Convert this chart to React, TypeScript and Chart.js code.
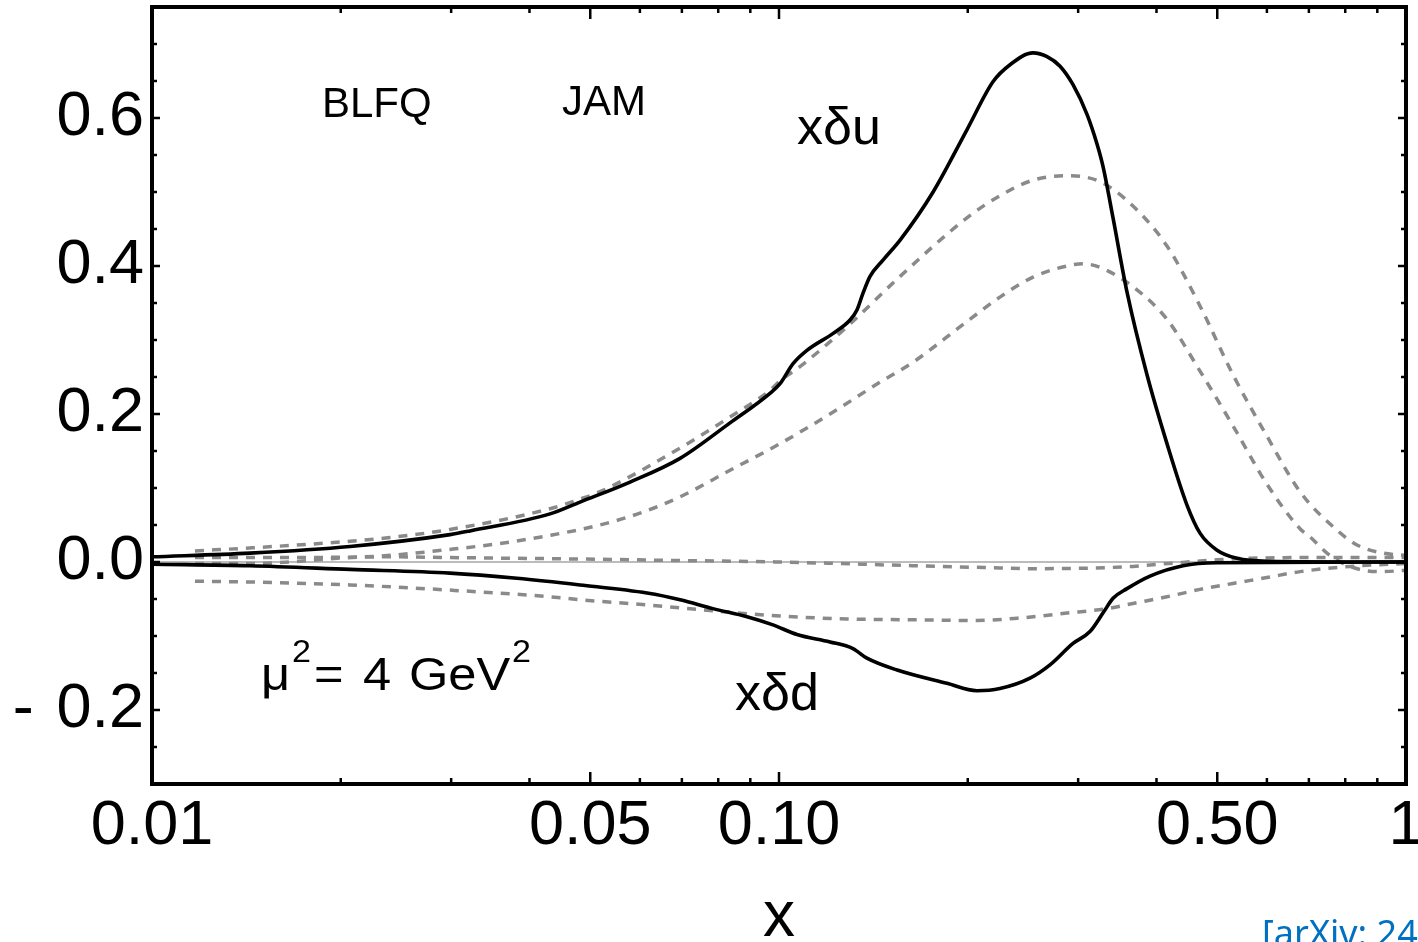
import React, { useEffect, useRef } from 'react';
import { Chart, registerables } from 'chart.js';

Chart.register(...registerables);

const FONT = '"Liberation Sans", Arial, Helvetica, sans-serif';

// ---- BLFQ (solid black) ----
const blfqUX = [0.01, 0.01433, 0.02069, 0.02988, 0.03215, 0.04313, 0.04815, 0.05787, 0.06953, 0.08354, 0.09674, 0.1004, 0.1053, 0.1108, 0.122, 0.1298, 0.1332, 0.1361, 0.1397, 0.1465, 0.156, 0.1761, 0.1994, 0.2194, 0.2336, 0.2542, 0.2676, 0.2807, 0.2944, 0.3099, 0.3215, 0.3286, 0.341, 0.3589, 0.3863, 0.4157, 0.4474, 0.4693, 0.4996, 0.5377, 0.6002, 1.0];
const blfqUY = [0.007, 0.012, 0.021, 0.037, 0.042, 0.065, 0.081, 0.108, 0.14, 0.188, 0.228, 0.241, 0.268, 0.286, 0.309, 0.327, 0.341, 0.363, 0.386, 0.408, 0.435, 0.5, 0.584, 0.649, 0.672, 0.688, 0.683, 0.67, 0.645, 0.605, 0.565, 0.535, 0.465, 0.365, 0.253, 0.16, 0.077, 0.039, 0.016, 0.005, 0.001, 0.0];

const blfqDX = [0.01, 0.01433, 0.02069, 0.02988, 0.0382, 0.04815, 0.0616, 0.06953, 0.07847, 0.08892, 0.09781, 0.1068, 0.1206, 0.1312, 0.1381, 0.1543, 0.1853, 0.2069, 0.2251, 0.2514, 0.2705, 0.2944, 0.3133, 0.3286, 0.341, 0.3589, 0.3906, 0.4409, 0.4996, 1.0];
const blfqDY = [-0.003, -0.005, -0.01, -0.015, -0.022, -0.031, -0.042, -0.051, -0.063, -0.074, -0.085, -0.098, -0.108, -0.117, -0.13, -0.146, -0.164, -0.174, -0.171, -0.157, -0.139, -0.11, -0.094, -0.069, -0.049, -0.036, -0.019, -0.005, -0.001, 0];

// ---- JAM (dashed gray) ----
const jamU1X = [0.01171, 0.01433, 0.02069, 0.02397, 0.02988, 0.04313, 0.04815, 0.05183, 0.06953, 0.08354, 0.09674, 0.1004, 0.108, 0.1284, 0.156, 0.1994, 0.2251, 0.2542, 0.288, 0.3251, 0.3669, 0.4157, 0.4693, 0.5298, 0.6002, 0.6776, 0.7762, 0.8354, 0.919, 1.0];
const jamU1Y = [0.015, 0.019, 0.028, 0.033, 0.044, 0.072, 0.085, 0.095, 0.154, 0.196, 0.232, 0.245, 0.264, 0.318, 0.386, 0.465, 0.495, 0.516, 0.522, 0.514, 0.481, 0.427, 0.346, 0.253, 0.17, 0.095, 0.043, 0.023, 0.012, 0.009];

const jamU2X = [0.01171, 0.01433, 0.01722, 0.01973, 0.02397, 0.02988, 0.03589, 0.04313, 0.05183, 0.06, 0.06953, 0.08354, 0.1004, 0.1206, 0.1449, 0.1636, 0.1994, 0.2251, 0.2542, 0.288, 0.3054, 0.3251, 0.3669, 0.4157, 0.4693, 0.5298, 0.6002, 0.6776, 0.703, 0.7482, 0.7935, 0.8539, 0.919, 1.0];
const jamU2Y = [-0.002, -0.002, 0.001, 0.005, 0.009, 0.017, 0.025, 0.036, 0.05, 0.066, 0.088, 0.124, 0.16, 0.2, 0.243, 0.27, 0.325, 0.358, 0.385, 0.4, 0.403, 0.398, 0.372, 0.328, 0.258, 0.184, 0.105, 0.045, 0.034, 0.012, -0.002, -0.011, -0.013, -0.011];

const jamD1X = [0.01171, 0.01722, 0.02397, 0.02988, 0.04815, 0.06953, 0.1004, 0.1636, 0.2251, 0.2542, 0.3669, 0.3906, 0.4409, 0.4996, 0.5638, 0.6776, 1.0];
const jamD1Y = [0.006, 0.006, 0.007, 0.006, 0.004, 0.002, 0.0, -0.005, -0.008, -0.009, -0.006, -0.004, -0.0005, 0.003, 0.005, 0.006, 0.006];

const jamD2X = [0.01171, 0.01433, 0.02069, 0.02988, 0.04313, 0.04815, 0.0616, 0.07847, 0.1004, 0.1284, 0.16, 0.2069, 0.2397, 0.288, 0.3335, 0.3669, 0.4157, 0.4693, 0.5298, 0.6002, 0.6776, 0.8142, 1.0];
const jamD2Y = [-0.026, -0.027, -0.031, -0.038, -0.047, -0.051, -0.058, -0.066, -0.073, -0.077, -0.078, -0.079, -0.076, -0.069, -0.063, -0.056, -0.047, -0.037, -0.029, -0.021, -0.013, -0.006, -0.002];

// ---- axes ----
const xMajorTicks = [0.01, 0.05, 0.1, 0.5, 1];
const xTickLabels = ['0.01', '0.05', '0.10', '0.50', '1'];
const xMinorTicks = [0.02, 0.03, 0.04, 0.06, 0.07, 0.08, 0.09, 0.2, 0.3, 0.4, 0.6, 0.7, 0.8, 0.9];
const yMajorTicks = [-0.2, 0, 0.2, 0.4, 0.6];
const yTickLabels = ['- \u200A0.2', '0.0', '0.2', '0.4', '0.6'];
const yMinorTicks = [-0.25, -0.15, -0.1, -0.05, 0.05, 0.1, 0.15, 0.25, 0.3, 0.35, 0.45, 0.5, 0.55, 0.65, 0.7];

const toPts = (xs: number[], ys: number[]) => xs.map((x, i) => ({ x, y: ys[i] }));

const framePlugin = {
  id: 'frameTicks',
  beforeDatasetsDraw(chart: any) {
    const { ctx, chartArea, scales } = chart;
    const y0 = scales.y.getPixelForValue(0);
    ctx.save();
    ctx.strokeStyle = '#7a7a7a';
    ctx.lineWidth = 1.2;
    ctx.beginPath();
    ctx.moveTo(chartArea.left, y0);
    ctx.lineTo(chartArea.right, y0);
    ctx.stroke();
    ctx.restore();
  },
  afterDraw(chart: any) {
    const { ctx, chartArea, scales } = chart;
    const { left, right, top, bottom } = chartArea;
    const xs = scales.x;
    const ys = scales.y;
    ctx.save();
    ctx.strokeStyle = '#000';
    ctx.lineWidth = 2.5;
    ctx.beginPath();
    const xt = (v: number, len: number) => {
      const p = xs.getPixelForValue(v);
      ctx.moveTo(p, bottom);
      ctx.lineTo(p, bottom - len);
      ctx.moveTo(p, top);
      ctx.lineTo(p, top + len);
    };
    const yt = (v: number, len: number) => {
      const p = ys.getPixelForValue(v);
      ctx.moveTo(left, p);
      ctx.lineTo(left + len, p);
      ctx.moveTo(right, p);
      ctx.lineTo(right - len, p);
    };
    xMajorTicks.forEach((v) => xt(v, 12));
    xMinorTicks.forEach((v) => xt(v, 6));
    yMajorTicks.forEach((v) => yt(v, 8));
    yMinorTicks.forEach((v) => yt(v, 5));
    ctx.stroke();
    ctx.lineWidth = 4;
    ctx.strokeRect(left, top, right - left, bottom - top);

    // annotations
    ctx.fillStyle = '#000';
    ctx.textBaseline = 'alphabetic';
    ctx.textAlign = 'left';
    ctx.font = `42px ${FONT}`;
    ctx.fillText('BLFQ', 322, 117);
    ctx.fillText('JAM', 562, 115);
    ctx.font = `52px ${FONT}`;
    ctx.fillText('xδu', 797, 144);
    ctx.fillText('xδd', 735, 710);

    const stretched = (t: string, x: number, y: number, size: number) => {
      ctx.save();
      ctx.translate(x, y);
      ctx.scale(1.1, 1);
      ctx.font = `${size}px ${FONT}`;
      ctx.fillText(t, 0, 0);
      ctx.restore();
    };
    stretched('μ', 261, 690, 46);
    stretched('2', 292, 662, 31);
    stretched('=', 314, 690, 46);
    stretched('4', 363, 690, 46);
    stretched('GeV', 409, 690, 46);
    stretched('2', 512, 662, 31);

    ctx.fillStyle = '#0070C0';
    ctx.font = `36px "Noto Sans", sans-serif`;
    ctx.fillText('[arXiv: 24', 1262, 946);
    ctx.restore();
  },
};

export default function App() {
  const canvasRef = useRef<HTMLCanvasElement | null>(null);

  useEffect(() => {
    document.body.style.margin = '0';
    const canvas = canvasRef.current;
    if (!canvas) return;
    const solid = (data: any) => ({
      data,
      borderColor: '#000',
      borderWidth: 3.6,
      pointRadius: 0,
      cubicInterpolationMode: 'monotone' as const,
      fill: false,
    });
    const dashed = (data: any) => ({
      data,
      borderColor: '#8a8a8a',
      borderWidth: 3.5,
      borderDash: [9, 8],
      pointRadius: 0,
      cubicInterpolationMode: 'monotone' as const,
      fill: false,
    });
    const chart = new Chart(canvas, {
      type: 'line',
      data: {
        datasets: [
          { label: 'BLFQ xδu', ...solid(toPts(blfqUX, blfqUY)) },
          { label: 'BLFQ xδd', ...solid(toPts(blfqDX, blfqDY)) },
          { label: 'JAM xδu 1', ...dashed(toPts(jamU1X, jamU1Y)) },
          { label: 'JAM xδu 2', ...dashed(toPts(jamU2X, jamU2Y)) },
          { label: 'JAM xδd 1', ...dashed(toPts(jamD1X, jamD1Y)) },
          { label: 'JAM xδd 2', ...dashed(toPts(jamD2X, jamD2Y)) },
        ],
      },
      options: {
        animation: false,
        responsive: false,
        devicePixelRatio: 1,
        layout: { padding: { left: 0, top: 7, right: 12, bottom: 0 } },
        plugins: {
          legend: { display: false },
          tooltip: { enabled: false },
          title: { display: false },
        },
        scales: {
          x: {
            type: 'logarithmic',
            min: 0.01,
            max: 1,
            position: 'bottom',
            grid: { display: false, drawTicks: false },
            border: { display: false },
            ticks: {
              font: { family: FONT, size: 63 },
              color: '#000',
              padding: 5,
              maxRotation: 0,
              minRotation: 0,
              autoSkip: false,
              callback: (value: any) => {
                const i = xMajorTicks.findIndex((t) => Math.abs(t - Number(value)) < 1e-9);
                return i >= 0 ? xTickLabels[i] : '';
              },
            },
            afterBuildTicks: (s: any) => {
              s.ticks = xMajorTicks.map((v) => ({ value: v }));
            },
            afterFit: (s: any) => {
              s.height = 158;
              s.paddingLeft = 0;
              s.paddingRight = 0;
            },
            title: {
              display: true,
              text: 'x',
              color: '#000',
              font: { family: FONT, size: 64, lineHeight: 0.75 },
              padding: 0,
            },
          },
          y: {
            type: 'linear',
            min: -0.3,
            max: 0.75,
            grid: { display: false, drawTicks: false },
            border: { display: false },
            ticks: {
              font: { family: FONT, size: 63 },
              color: '#000',
              padding: 8,
              autoSkip: false,
              callback: (value: any) => {
                const i = yMajorTicks.findIndex((t) => Math.abs(t - Number(value)) < 1e-9);
                return i >= 0 ? yTickLabels[i] : '';
              },
            },
            afterBuildTicks: (s: any) => {
              s.ticks = yMajorTicks.map((v) => ({ value: v }));
            },
            afterFit: (s: any) => {
              s.width = 152;
              s.paddingTop = 0;
              s.paddingBottom = 0;
            },
          },
        },
      },
      plugins: [framePlugin],
    });
    return () => chart.destroy();
  }, []);

  return (
    <div style={{ position: 'fixed', left: 0, top: 0, width: 1418, height: 942, overflow: 'hidden', background: '#fff' }}>
      <canvas ref={canvasRef} width={1418} height={942} style={{ display: 'block' }} />
    </div>
  );
}
